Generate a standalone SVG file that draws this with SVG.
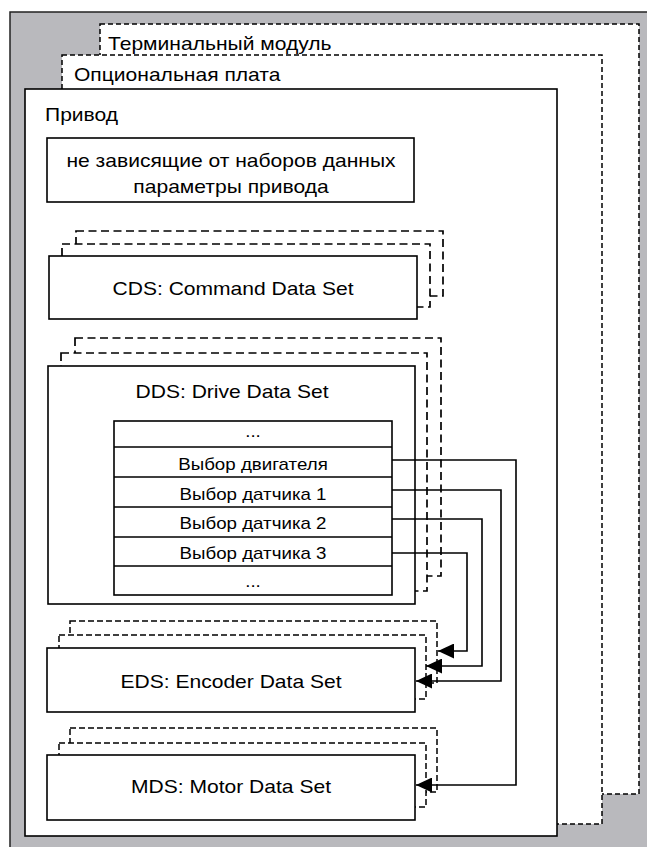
<svg xmlns="http://www.w3.org/2000/svg" width="647" height="847" viewBox="0 0 647 847">
<style>
.solid{fill:#fff;stroke:#000;stroke-width:1.6}
.dashO{fill:#fff;stroke:#000;stroke-width:1.5;stroke-dasharray:5 3}
.dashS{fill:#fff;stroke:#000;stroke-width:1.7;stroke-dasharray:8 4.5}
.dashE{fill:#fff;stroke:#000;stroke-width:1.5;stroke-dasharray:6 3}
.t{font-family:"Liberation Sans",Arial,sans-serif;font-size:18px;fill:#000}
.ts{font-family:"Liberation Sans",Arial,sans-serif;font-size:16px;fill:#000}
.c{fill:none;stroke:#000;stroke-width:1.6}
</style>
<defs>
<marker id="ah" markerUnits="userSpaceOnUse" markerWidth="16" markerHeight="15" refX="16" refY="7.5" orient="auto">
<path d="M0,0 L16,7.5 L0,15 z" fill="#000"/>
</marker>
</defs>
<rect x="10" y="12" width="660" height="860" fill="#b9b9bd" stroke="#222" stroke-width="1.5"/>
<g id="terminal">
<rect class="dashO" x="100" y="24" width="539" height="770"/>
<text class="t" transform="translate(108,50) scale(1.17,1)">Терминальный модуль</text>
</g>
<g id="option">
<rect class="dashO" x="62" y="55" width="540" height="769"/>
<text class="t" transform="translate(74,81) scale(1.17,1)">Опциональная плата</text>
</g>
<g id="drive">
<rect class="solid" x="25" y="89" width="532" height="747"/>
<text class="t" transform="translate(45,121) scale(1.17,1)">Привод</text>
</g>
<g id="independent">
<rect class="solid" x="47" y="138" width="367" height="64"/>
<text class="t" text-anchor="middle" transform="translate(231,167) scale(1.17,1)">не зависящие от наборов данных</text>
<text class="t" text-anchor="middle" transform="translate(231,193) scale(1.17,1)">параметры привода</text>
</g>
<g id="cds">
<rect class="dashS" x="76" y="231" width="367" height="65"/>
<rect class="dashS" x="62" y="244" width="368" height="63"/>
<rect class="solid" x="49" y="256" width="368" height="63"/>
<text class="t" text-anchor="middle" transform="translate(233,295) scale(1.17,1)">CDS: Command Data Set</text>
</g>
<g id="dds">
<rect class="dashS" x="75" y="338" width="366" height="238"/>
<rect class="dashS" x="61" y="353" width="366" height="238"/>
<rect class="solid" x="48" y="366" width="367" height="238"/>
<text class="t" text-anchor="middle" transform="translate(232,398) scale(1.17,1)">DDS: Drive Data Set</text>
</g>
<g id="dds-table">
<rect class="solid" x="114" y="421" width="278" height="174"/>
<path class="c" d="M114,447 H392 M114,477 H392 M114,507 H392 M114,537 H392 M114,566 H392"/>
<text class="ts" text-anchor="middle" transform="translate(253,437) scale(1.17,1)">...</text>
<text class="ts" text-anchor="middle" transform="translate(253,470) scale(1.17,1)">Выбор двигателя</text>
<text class="ts" text-anchor="middle" transform="translate(253,500) scale(1.17,1)">Выбор датчика 1</text>
<text class="ts" text-anchor="middle" transform="translate(253,529) scale(1.17,1)">Выбор датчика 2</text>
<text class="ts" text-anchor="middle" transform="translate(253,559) scale(1.17,1)">Выбор датчика 3</text>
<text class="ts" text-anchor="middle" transform="translate(253,587) scale(1.17,1)">...</text>
</g>
<g id="eds">
<rect class="dashE" x="70" y="621" width="367" height="62"/>
<rect class="dashE" x="59" y="635" width="367" height="64"/>
<rect class="solid" x="47" y="648" width="368" height="64"/>
<text class="t" text-anchor="middle" transform="translate(231,688) scale(1.17,1)">EDS: Encoder Data Set</text>
</g>
<g id="mds">
<rect class="dashE" x="70" y="728" width="367" height="64"/>
<rect class="dashE" x="59" y="743" width="367" height="64"/>
<rect class="solid" x="47" y="755" width="368" height="65"/>
<text class="t" text-anchor="middle" transform="translate(231,793) scale(1.17,1)">MDS: Motor Data Set</text>
</g>
<g id="connectors">
<path class="c" d="M392,460 H516 V785 H416" marker-end="url(#ah)"/>
<path class="c" d="M392,490 H501 V681 H416" marker-end="url(#ah)"/>
<path class="c" d="M392,519 H482 V666 H426" marker-end="url(#ah)"/>
<path class="c" d="M392,553 H467 V651 H438" marker-end="url(#ah)"/>
</g>
</svg>
